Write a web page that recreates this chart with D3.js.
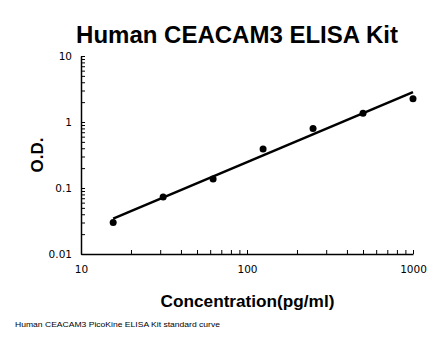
<!DOCTYPE html>
<html><head><meta charset="utf-8">
<script src="https://cdn.jsdelivr.net/npm/d3@7"></script>
<style>body{margin:0;background:#fff}svg{display:block}</style>
</head><body>
<script>
const concentrations = [15.625, 31.25, 62.5, 125, 250, 500, 1000];
const odValues = [0.030, 0.073, 0.137, 0.39, 0.80, 1.36, 2.25];
const trendX = [15.625, 1000];
const trendY = [0.0344, 2.83];
const xTicks = [10, 100, 1000];
const yTicks = [0.01, 0.1, 1, 10];
const title = "Human CEACAM3 ELISA Kit";
const xLabel = "Concentration(pg/ml)";
const yLabel = "O.D.";
const footer = "Human CEACAM3 PicoKine ELISA Kit standard curve";

const W = 446, H = 356;
const svg = d3.select("body").append("svg").attr("width", W).attr("height", H);
const x = d3.scaleLog().domain([10, 1000]).range([81, 413]);
const y = d3.scaleLog().domain([0.01, 10]).range([254, 56]);

// minor ticks
const xMinor = [], yMinor = [];
for (let d = 10; d < 1000; d *= 10) for (let k = 2; k <= 9; k++) xMinor.push(d * k);
for (let d = 0.01; d < 10; d *= 10) for (let k = 2; k <= 9; k++) yMinor.push(+(d * k).toPrecision(3));

const g = svg.append("g");
const xAxis = d3.axisBottom(x).tickValues(xTicks.concat(xMinor)).tickSizeInner(-4).tickSizeOuter(0)
  .tickFormat(d => xTicks.includes(d) ? d3.format("d")(d) : "");
const gx = g.append("g").attr("transform", `translate(0,${y(0.01)})`).call(xAxis);
gx.select(".domain").attr("stroke", "#000").attr("stroke-width", 1.5);
gx.selectAll(".tick line").attr("stroke", "#000").attr("stroke-width", 1);
gx.selectAll(".tick text").attr("y", 12).attr("dy", "0.71em")
  .attr("font-family", "DejaVu Sans").attr("font-size", 10.5).attr("fill", "#000");

const yAxis = d3.axisLeft(y).tickValues(yTicks.concat(yMinor)).tickSizeInner(-4).tickSizeOuter(0)
  .tickFormat(d => yTicks.includes(d) ? String(d) : "");
const gy = g.append("g").attr("transform", `translate(${x(10)},0)`).call(yAxis);
gy.select(".domain").attr("stroke", "#000").attr("stroke-width", 1.5);
gy.selectAll(".tick line").attr("stroke", "#000").attr("stroke-width", 1);
gy.selectAll(".tick text").attr("x", -9)
  .attr("font-family", "DejaVu Sans").attr("font-size", 10.5).attr("fill", "#000");

// trend line
svg.append("path")
  .datum(trendX.map((v, i) => [v, trendY[i]]))
  .attr("d", d3.line().x(d => x(d[0])).y(d => y(d[1])))
  .attr("stroke", "#000").attr("stroke-width", 2.5).attr("fill", "none");

// points
svg.append("g").selectAll("circle").data(concentrations).join("circle")
  .attr("cx", d => x(d)).attr("cy", (d, i) => y(odValues[i])).attr("r", 3.5).attr("fill", "#000");

// texts
svg.append("text").attr("x", 237).attr("y", 43).attr("text-anchor", "middle")
  .attr("font-family", "Liberation Sans, Arial").attr("font-weight", "bold").attr("font-size", 24).text(title);
svg.append("text").attr("x", 247.5).attr("y", 307).attr("text-anchor", "middle")
  .attr("font-family", "Liberation Sans, Arial").attr("font-weight", "bold").attr("font-size", 17.2).text(xLabel);
svg.append("text").attr("transform", "translate(43,155) rotate(-90)").attr("text-anchor", "middle")
  .attr("font-family", "Liberation Sans, Arial").attr("font-weight", "bold").attr("font-size", 17).text(yLabel);
svg.append("text").attr("x", 15).attr("y", 327)
  .attr("font-family", "Liberation Sans, Arial").attr("font-size", 8).attr("textLength", 205).attr("lengthAdjust", "spacingAndGlyphs").text(footer);
</script>
</body></html>
